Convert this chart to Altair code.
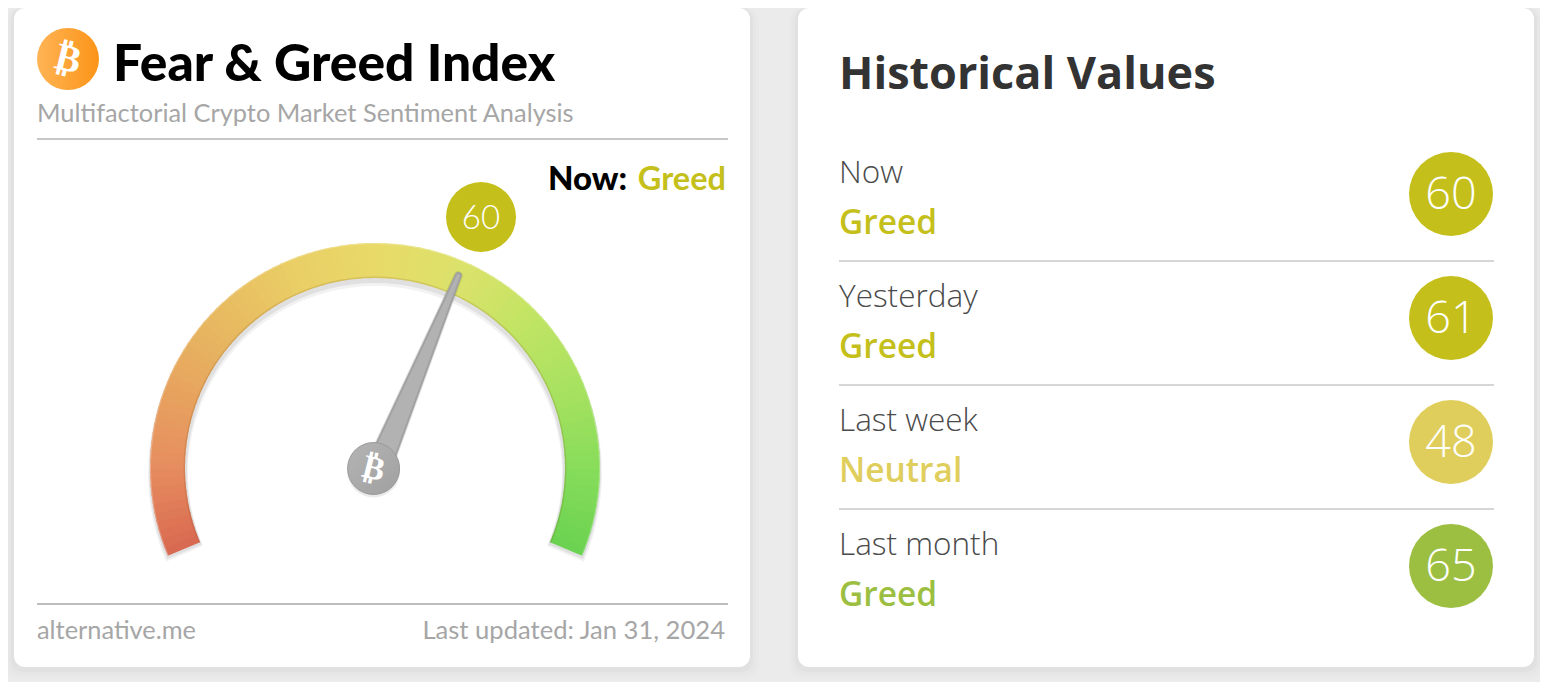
import altair as alt
import pandas as pd

# ---- values
periods = ["Now", "Yesterday", "Last week", "Last month"]
labels = ["Greed", "Greed", "Neutral", "Greed"]
scores = [60, 61, 48, 65]
score_colors = ["#c5bf1c", "#c5bf1c", "#dfce5c", "#9cbf42"]
current_score = 60
gauge_stops = [0, 10, 25, 40, 50, 60, 70, 80, 90, 100]
gauge_colors = ["#d96a52", "#e68e60", "#e6b160", "#e9cf66", "#e8da69",
                "#dbe26b", "#c1e464", "#a6e160", "#85dc5a", "#68d250"]
gauge_ticks = list(range(0, 100))

W, H = 1540, 682
sx = alt.Scale(domain=[8, W], nice=False, zero=False)
sy = alt.Scale(domain=[8, H], nice=False, zero=False, reverse=True)


def X(f="x"):
    return alt.X(f"{f}:Q", scale=sx, axis=None)


def Y(f="y"):
    return alt.Y(f"{f}:Q", scale=sy, axis=None)


def txt(t, x, y, size, color, align="left", weight="normal", font="Lato", angle=0):
    kw = dict(font=font, fontSize=size, color=color, align=align, baseline="middle",
              fontWeight=weight, angle=angle)
    return alt.Chart(pd.DataFrame({"t": [t], "x": [x], "y": [y]})).mark_text(**kw).encode(
        x=X(), y=Y(), text="t:N")


def box(x0, x1, y0, y1, color, radius=0, opacity=1.0):
    d = pd.DataFrame({"x": [x0], "x2": [x1], "y": [y0], "y2": [y1]})
    return alt.Chart(d).mark_rect(color=color, cornerRadius=radius, opacity=opacity).encode(
        x=X(), x2="x2:Q", y=Y(), y2="y2:Q")


def line(x0, x1, y, color, width):
    d = pd.DataFrame({"x": [x0], "x2": [x1], "y": [y]})
    return alt.Chart(d).mark_rule(color=color, strokeWidth=width).encode(
        x=X(), x2="x2:Q", y=Y())


def dot(x, y, r, **kw):
    d = pd.DataFrame({"x": [x], "y": [y]})
    return alt.Chart(d).mark_point(filled=True, size=4 * r * r, opacity=1, **kw).encode(
        x=X(), y=Y())


layers = [box(8, W, 8, H, "#ebebeb")]

# cards with a soft shadow
for x0, x1 in [(14, 750), (798, 1534)]:
    for g, o in [(9, 0.008), (6, 0.012), (3, 0.018)]:
        layers.append(box(x0 - g, x1 + g, 8, 667 + g + 2, "#000000", 12, o))
    layers.append(box(x0, x1, 8, 667, "#ffffff", 11))

# ---- left card header
icon = alt.LinearGradient(gradient="linear", x1=0, x2=1, y1=0, y2=0, stops=[
    alt.GradientStop(color="#ffb455", offset=0), alt.GradientStop(color="#fb9418", offset=1)])
layers += [
    dot(68, 59, 31, fill=icon),
    txt("₿", 68, 60, 38, "#ffffff", "center", "bold", "DejaVu Sans", 14),
    txt("Fear & Greed Index", 113, 66, 51.5, "#000000", "left", 900),
    txt("Multifactorial Crypto Market Sentiment Analysis", 37, 114, 25.4, "#a6a6a6"),
    line(37, 728, 139, "#b4b4b4", 1.4),
    txt("Now:", 627, 180, 33, "#000000", "right", 900),
    txt("Greed", 726, 180, 32.5, score_colors[0], "right", "bold"),
    line(37, 728, 604, "#a8a8a8", 1.4),
    txt("alternative.me", 37, 631, 25.4, "#a6a6a6"),
    txt("Last updated: Jan 31, 2024", 725, 631, 25.6, "#a6a6a6", "right"),
]

# ---- gauge
CX, CY = 375, 468
theta_scale = alt.Scale(domain=[0, 100], range=[-1.972, 1.972])
track = pd.DataFrame({"v": gauge_ticks})
track["x"], track["y"] = CX, CY


def gauge_layer(outer, inner, dy=0, **kw):
    d = pd.DataFrame({"v0": [0], "v1": [100], "x": [CX], "y": [CY + dy]})
    return alt.Chart(d).mark_arc(radius=outer, radius2=inner, **kw).encode(
        x=X(), y=Y(),
        theta=alt.Theta("v0:Q", scale=theta_scale, stack=False),
        theta2=alt.Theta2("v1:Q"))


layers.append(gauge_layer(227, 187, 5, color="#000000", opacity=0.05))
layers.append(gauge_layer(226, 188, 3, color="#000000", opacity=0.07))
layers.append(
    alt.Chart(track).transform_calculate(end="min(datum.v + 1.25, 100)").mark_arc(
        radius=225, radius2=190).encode(
        x=X(), y=Y(),
        theta=alt.Theta("v:Q", scale=theta_scale, stack=False),
        theta2=alt.Theta2("end:Q"),
        color=alt.Color("v:Q", legend=None,
                        scale=alt.Scale(domain=gauge_stops, range=gauge_colors, zero=False, nice=False)),
    ))
layers.append(gauge_layer(191.5, 190, color="#7a4a10", opacity=0.16))
layers.append(gauge_layer(225, 224, color="#ffffff", opacity=0.25))

# ---- needle: value turned into an angle, in the chart's own expression language
needle = pd.DataFrame({"r": [0, 209], "w": [26, 7]})
needle["score"] = current_score
for width_add, colour, o in [(2, "#000000", 0.10), (0, "#a2a2a2", 1), (-4, "#b2b2b2", 1)]:
    layers.append(
        alt.Chart(needle).transform_calculate(
            deg="(datum.score - 50) * 2.26",
            x="378 + datum.r * sin(datum.deg * PI / 180)",
            y="468.5 - datum.r * cos(datum.deg * PI / 180)",
            wd=f"datum.w + ({width_add})",
        ).mark_trail(color=colour, opacity=o).encode(
            x=X(), y=Y(), order=alt.Order("r:Q"), size=alt.Size("wd:Q", scale=None)))

hub = alt.LinearGradient(gradient="linear", x1=0, x2=1, y1=0, y2=1, stops=[
    alt.GradientStop(color="#b4b4b4", offset=0), alt.GradientStop(color="#a0a0a0", offset=1)])
layers += [
    dot(373.6, 471, 26.5, fill="#000000", fillOpacity=0.08),
    dot(373.6, 468.5, 26, fill=hub, stroke="#999999", strokeWidth=1),
    txt("₿", 373.6, 469, 33, "#ffffff", "center", "bold", "DejaVu Sans", 14),
    dot(481, 217, 35, fill=score_colors[0]),
    txt(str(current_score), 481, 219, 33, "#ffffff", "center", 300),
]

# ---- right card
layers.append(txt("Historical Values", 839, 75, 45, "#333333", "left", "bold", "Open Sans"))
row_label_y, row_state_y, row_bubble_y, row_step = 174, 224, 194, 124
for i, (p, l, s, c) in enumerate(zip(periods, labels, scores, score_colors)):
    off = i * row_step
    layers += [
        txt(p, 839, row_label_y + off, 31.5, "#4a4a4a", font="Open Sans", weight=300),
        txt(l, 839, row_state_y + off, 33.5, c, weight=600, font="Open Sans"),
        dot(1451, row_bubble_y + off, 42, fill=c),
        txt(str(s), 1451, row_bubble_y + off + 1, 45, "#ffffff", "center", font="Open Sans", weight=300),
    ]
    if i < len(periods) - 1:
        layers.append(line(839, 1494, row_bubble_y + off + 67, "#c8c8c8", 1.5))

chart = alt.layer(*layers).resolve_scale(color="independent", size="independent").properties(
    width=W - 8, height=H - 8, padding=0,
    autosize=alt.AutoSizeParams(type="none"), background="#ebebeb",
).configure_view(stroke=None)

chart.save("out.html", embed_options={"renderer": "svg", "actions": False})
